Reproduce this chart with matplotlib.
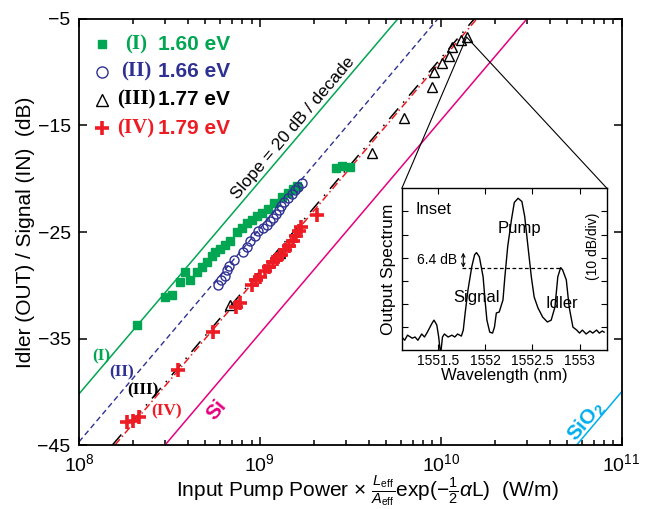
import matplotlib
matplotlib.use("Agg")
import matplotlib.pyplot as plt
import numpy as np
from matplotlib.patches import ConnectionPatch
from matplotlib.ticker import LogLocator, FixedLocator, NullFormatter

plt.rcParams['font.family'] = ['Liberation Sans', 'DejaVu Sans']
plt.rcParams['mathtext.fontset'] = 'custom'
plt.rcParams['mathtext.rm'] = 'Liberation Sans'
plt.rcParams['mathtext.it'] = 'Liberation Sans:italic'
plt.rcParams['mathtext.bf'] = 'Liberation Sans:bold'

# ---- data ----
# (I) 1.60 eV
x_I = [2.09e8, 2.99e8, 3.26e8, 3.61e8, 3.85e8, 4.10e8, 4.49e8, 4.78e8, 5.09e8, 5.43e8,
       5.64e8, 6.01e8, 6.41e8, 6.83e8, 7.46e8, 7.96e8, 8.47e8, 9.03e8, 9.62e8, 1.026e9,
       1.107e9, 1.195e9, 1.323e9, 1.428e9, 1.522e9, 1.601e9, 2.63e9, 2.84e9, 3.14e9]
y_I = [-33.7, -31.1, -30.9, -29.7, -28.8, -29.5, -28.8, -28.3, -27.8, -27.3,
       -26.9, -26.6, -26.2, -25.8, -25.0, -24.6, -24.2, -23.9, -23.5, -23.2,
       -22.8, -22.3, -21.7, -21.3, -21.0, -20.7, -19.0, -18.8, -18.9]
# (II) 1.66 eV
x_II = [5.86e8, 6.09e8, 6.41e8, 6.57e8, 6.74e8, 7.18e8, 8.05e8, 8.47e8, 8.81e8, 9.38e8,
        9.75e8, 1.04e9, 1.09e9, 1.14e9, 1.18e9, 1.23e9, 1.27e9, 1.31e9, 1.36e9, 1.43e9,
        1.50e9, 1.56e9, 1.62e9, 1.71e9]
y_II = [-30.0, -29.5, -29.1, -28.6, -28.2, -27.6, -26.9, -26.4, -25.8, -25.4,
        -24.9, -24.6, -24.3, -24.0, -23.7, -23.3, -22.9, -22.6, -22.2, -21.8,
        -21.4, -21.1, -20.8, -20.4]
# (III) 1.77 eV
x_III = [6.83e8, 1.29e9, 4.16e9, 6.25e9, 8.92e9, 9.15e9, 1.01e10, 1.11e10, 1.16e10, 1.29e10, 1.39e10]
y_III = [-31.9, -27.0, -17.6, -14.3, -11.4, -10.0, -9.1, -8.5, -7.6, -7.0, -6.7]
# (IV) 1.79 eV
x_IV = [1.84e8, 1.99e8, 2.14e8, 3.52e8, 5.50e8, 7.37e8, 7.76e8, 9.03e8, 9.50e8, 1.00e9,
        1.07e9, 1.12e9, 1.18e9, 1.24e9, 1.31e9, 1.37e9, 1.45e9, 1.52e9, 1.58e9, 1.64e9,
        1.69e9, 2.07e9]
y_IV = [-42.8, -42.7, -42.4, -38.0, -34.4, -32.0, -31.7, -30.0, -29.5, -29.2,
        -28.7, -28.3, -27.8, -27.5, -27.2, -26.7, -26.3, -25.8, -25.4, -24.9,
        -24.5, -23.4]

# 20 dB/decade guide lines: end points
line_I_x, line_I_y = [1e8, 5.78e9], [-40.2, -5]
line_II_x, line_II_y = [1e8, 9.62e9], [-44.7, -5]
line_III_x, line_III_y = [1.53e8, 1.53e10], [-45, -5]
line_IV_x, line_IV_y = [1.58e8, 1.58e10], [-45, -5]
line_Si_x, line_Si_y = [2.99e8, 2.99e10], [-45, -5]
line_SiO2_x, line_SiO2_y = [5.64e10, 1e11], [-45, -40.0]

# inset spectrum (wavelength nm, dB)
wl = [1551.12, 1551.15, 1551.18, 1551.23, 1551.26, 1551.29, 1551.33, 1551.36, 1551.39, 1551.44,
      1551.46, 1551.49, 1551.51, 1551.53, 1551.55, 1551.57, 1551.61, 1551.65, 1551.68, 1551.71,
      1551.75, 1551.77, 1551.79, 1551.82, 1551.86, 1551.89, 1551.91, 1551.94, 1551.98, 1552.00,
      1552.02, 1552.05, 1552.08, 1552.10, 1552.12, 1552.15, 1552.19, 1552.21, 1552.24, 1552.28,
      1552.31, 1552.35, 1552.39, 1552.42, 1552.45, 1552.49, 1552.52, 1552.56, 1552.61, 1552.66,
      1552.70, 1552.74, 1552.77, 1552.80, 1552.82, 1552.86, 1552.89, 1552.93, 1552.97, 1553.00,
      1553.03, 1553.07, 1553.11, 1553.14, 1553.18, 1553.21, 1553.24, 1553.26]
spec = [-64.3, -65.7, -63.5, -64.8, -64.3, -65.7, -63.0, -64.3, -62.2, -58.3,
        -57.0, -59.1, -64.3, -72.0, -64.3, -63.0, -64.3, -63.5, -64.3, -63.0,
        -63.9, -61.3, -53.9, -43.9, -33.9, -28.7, -27.8, -29.6, -38.3, -48.3,
        -57.0, -62.2, -62.6, -60.0, -53.9, -53.5, -48.3, -38.3, -25.2, -13.5,
        -6.1, -4.3, -5.7, -12.2, -23.5, -38.3, -47.0, -51.7, -55.7, -57.8,
        -57.0, -51.3, -38.3, -34.3, -35.2, -39.6, -51.3, -60.0, -61.3, -62.6,
        -61.3, -63.0, -61.7, -62.6, -61.3, -62.6, -61.7, -62.2]

fig = plt.figure(figsize=(6.45, 5.09), dpi=100)
ax = fig.add_axes([0.1225, 0.1257, 0.8413, 0.8370])
ax.set_xscale('log')
ax.set_xlim(1e8, 1e11)
ax.set_ylim(-45, -5)

green, blue, red, mag, cyan = '#00a651', '#2e3192', '#ed1c24', '#e6007e', '#00aeef'

ax.plot(line_I_x, line_I_y, color=green, lw=1.1)
ax.plot(line_II_x, line_II_y, color=blue, lw=1.0, ls=(0, (4, 2.5)))
ax.plot(line_III_x, line_III_y, color='black', lw=1.1, ls=(0, (9, 5, 1, 5)))
ax.plot(line_IV_x, line_IV_y, color=red, lw=1.1, ls=(0, (5, 2, 1, 2)))
ax.plot(line_Si_x, line_Si_y, color=mag, lw=1.1)
ax.plot(line_SiO2_x, line_SiO2_y, color=cyan, lw=1.1)

ax.plot(x_I, y_I, 's', color=green, ms=6, mec=green, ls='none', zorder=3)
ax.plot(x_II, y_II, 'o', mfc='none', mec=blue, ms=6.5, mew=1.0, ls='none', zorder=3)
ax.plot(x_III, y_III, '^', mfc='none', mec='black', ms=7.5, mew=1.0, ls='none', zorder=4)
ax.plot(x_IV, y_IV, '+', color=red, ms=10, mew=2.6, ls='none', zorder=5)

# legend drawn by hand
rows = [(0.941, 's', green, '(I)', '1.60 eV'),
        (0.876, 'o', blue, '(II)', '1.66 eV'),
        (0.810, '^', 'black', '(III)', '1.77 eV'),
        (0.744, '+', red, '(IV)', '1.79 eV')]
for yy, mk, c, rom, ev in rows:
    if mk == 's':
        ax.plot([0.042], [yy], mk, color=c, ms=6, transform=ax.transAxes, clip_on=False)
    elif mk == '+':
        ax.plot([0.042], [yy], mk, color=c, ms=10, mew=2.6, transform=ax.transAxes, clip_on=False)
    else:
        ax.plot([0.042], [yy], mk, mfc='none', mec=c, ms=8, mew=1.0, transform=ax.transAxes, clip_on=False)
    ax.text(0.105, yy, rom, color=c, fontsize=15, family='Liberation Serif', weight='bold',
            ha='center', va='center', transform=ax.transAxes)
    ax.text(0.145, yy, ev, color=c, fontsize=15, weight='bold',
            ha='left', va='center', transform=ax.transAxes)

lab_kw = dict(fontsize=12.5, family='Liberation Serif', weight='bold', ha='center', va='center')
ax.text(1.32e8, -36.7, '(I)', color=green, **lab_kw)
ax.text(1.73e8, -38.2, '(II)', color=blue, **lab_kw)
ax.text(2.26e8, -39.9, '(III)', color='black', **lab_kw)
ax.text(3.06e8, -41.8, '(IV)', color=red, **lab_kw)
ax.text(5.78e8, -41.7, 'Si', color=mag, fontsize=15, weight='bold', rotation=50, ha='center', va='center')
ax.text(6.4e10, -42.8, r'SiO$_{\bf 2}$', color=cyan, fontsize=15, weight='bold', rotation=50,
        ha='center', va='center')
ax.text(1.52e9, -15.2, 'Slope = 20 dB / decade', color='black', fontsize=12.5, rotation=49.6,
        ha='center', va='center')

ax.set_yticks([-45, -35, -25, -15, -5])
ax.xaxis.set_major_locator(LogLocator(base=10, numticks=10))
ax.xaxis.set_minor_locator(LogLocator(base=10, subs=np.arange(2, 10), numticks=20))
ax.xaxis.set_minor_formatter(NullFormatter())
ax.tick_params(which='both', direction='in', top=True, right=True, labelsize=14, width=1.1)
ax.tick_params(which='major', length=6, pad=6)
ax.tick_params(which='minor', length=3.5)
for s in ax.spines.values():
    s.set_linewidth(1.3)

ax.set_ylabel('Idler (OUT) / Signal (IN)  (dB)', fontsize=15, labelpad=2)
fig.text(0.57, 0.022,
         r'Input Pump Power $\times$ $\frac{L_{\rm eff}}{A_{\rm eff}}$exp($-\frac{1}{2}\alpha$L)  (W/m)',
         fontsize=15, ha='center', va='baseline')

# inset
ins = fig.add_axes([0.623, 0.312, 0.318, 0.318])
ins.plot(wl, spec, color='black', lw=1.0)
ins.set_xlim(1551.12, 1553.29)
ins.set_ylim(-70, 0)
ins.plot([1551.76, 1552.81], [-34.3, -34.3], color='black', lw=0.9, ls=(0, (3, 2)))
ins.annotate('', xy=(1551.77, -27.8), xytext=(1551.77, -34.3),
             arrowprops=dict(arrowstyle='<->', lw=0.8, color='black',
                             mutation_scale=6, shrinkA=0, shrinkB=0))
ins.text(1551.71, -31.0, '6.4 dB', fontsize=10, ha='right', va='center')
ins.text(1551.45, -9.1, 'Inset', fontsize=12, ha='center', va='center')
ins.text(1552.36, -17.4, 'Pump', fontsize=12, ha='center', va='center')
ins.text(1551.91, -47.4, 'Signal', fontsize=12, ha='center', va='center')
ins.text(1552.81, -49.6, 'Idler', fontsize=12, ha='center', va='center')
ins.text(0.93, 0.64, '(10 dB/div)', fontsize=10, rotation=90, ha='center', va='center',
         transform=ins.transAxes)
ins.set_xticks([1551.5, 1552, 1552.5, 1553])
ins.set_xticklabels(['1551.5', '1552', '1552.5', '1553'])
ins.yaxis.set_major_locator(FixedLocator([-60, -50, -40, -30, -20, -10]))
ins.set_yticklabels([])
ins.tick_params(direction='in', top=True, right=True, labelsize=10, length=4, pad=3)
ins.set_xlabel('Wavelength (nm)', fontsize=12, labelpad=0)
ins.set_ylabel('Output Spectrum', fontsize=12.5, labelpad=1)
for s in ins.spines.values():
    s.set_linewidth(1.0)

# connectors from main plot to inset
for corner in [(0, 1), (1, 1)]:
    cp = ConnectionPatch(xyA=(x_III[-1], y_III[-1]), coordsA='data', axesA=ax,
                         xyB=corner, coordsB='axes fraction', axesB=ins,
                         color='black', lw=0.8)
    fig.add_artist(cp)

fig.savefig('out.png', dpi=100)
